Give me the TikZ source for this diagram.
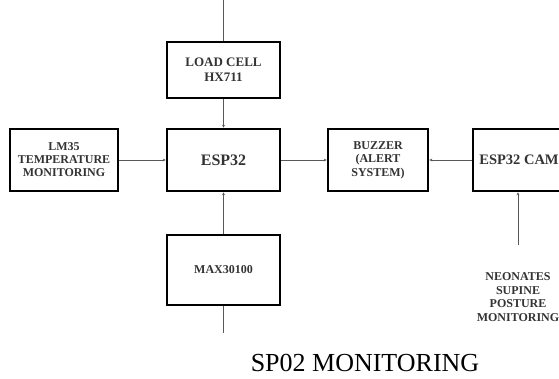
\documentclass[tikz,border=0pt]{standalone}
\usepackage{fontspec}
\setmainfont{Liberation Serif}
\usetikzlibrary{arrows.meta}
\begin{document}
\begin{tikzpicture}[x=1pt,y=-1pt,
  blk/.style={draw=black,line width=2.6pt,rectangle,inner sep=0pt,align=center,
    font=\fontsize{12}{13}\selectfont\bfseries,text=black!80},
  conn/.style={draw=black!65,line width=0.8pt},
  arr/.style={conn,-{Stealth[length=3pt,width=3pt]}}]
\useasboundingbox (0,0) rectangle (559,378);
\clip (0,0) rectangle (559,378);
\node[blk,minimum width=113pt,minimum height=56pt,font=\fontsize{13}{15}\selectfont\bfseries] (load) at (223.5,70) {LOAD CELL\\HX711};
\node[blk,minimum width=113pt,minimum height=62pt,font=\fontsize{16}{18}\selectfont\bfseries] (esp) at (223.5,160) {ESP32};
\node[blk,minimum width=108pt,minimum height=62pt] (lm) at (64,160) {LM35\\TEMPERATURE\\MONITORING};
\node[blk,minimum width=100pt,minimum height=62pt,font=\fontsize{12}{13.5}\selectfont\bfseries] (buz) at (378,160) {BUZZER\\(ALERT\\SYSTEM)};
\node[blk,minimum width=92pt,minimum height=62pt,font=\fontsize{14.5}{16}\selectfont\bfseries] (cam) at (519,160) {ESP32 CAM};
\node[blk,minimum width=113pt,minimum height=70pt] (max) at (223.5,270) {MAX30100};
\node[align=center,inner sep=0pt,font=\fontsize{12}{13.5}\selectfont\bfseries,text=black!80] (neo) at (518,297) {NEONATES\\SUPINE\\POSTURE\\MONITORING};
\node[inner sep=0pt,font=\fontsize{26}{28}\selectfont] (sp) at (365,363) {SP02 MONITORING};
\coordinate (top) at (223.5,0);
\coordinate (bot) at (223.5,333);
\coordinate (neotop) at (518,245);
\draw[conn] (top) -- (load.north);
\draw[arr] (load.south) -- (esp.north);
\draw[arr] (lm.east) -- (esp.west);
\draw[arr] (max.north) -- (esp.south);
\draw[conn] (max.south) -- (bot);
\draw[arr] (esp.east) -- (buz.west);
\draw[arr] (cam.west) -- (buz.east);
\draw[arr] (neotop) -- (neotop |- cam.south);
\end{tikzpicture}
\end{document}
